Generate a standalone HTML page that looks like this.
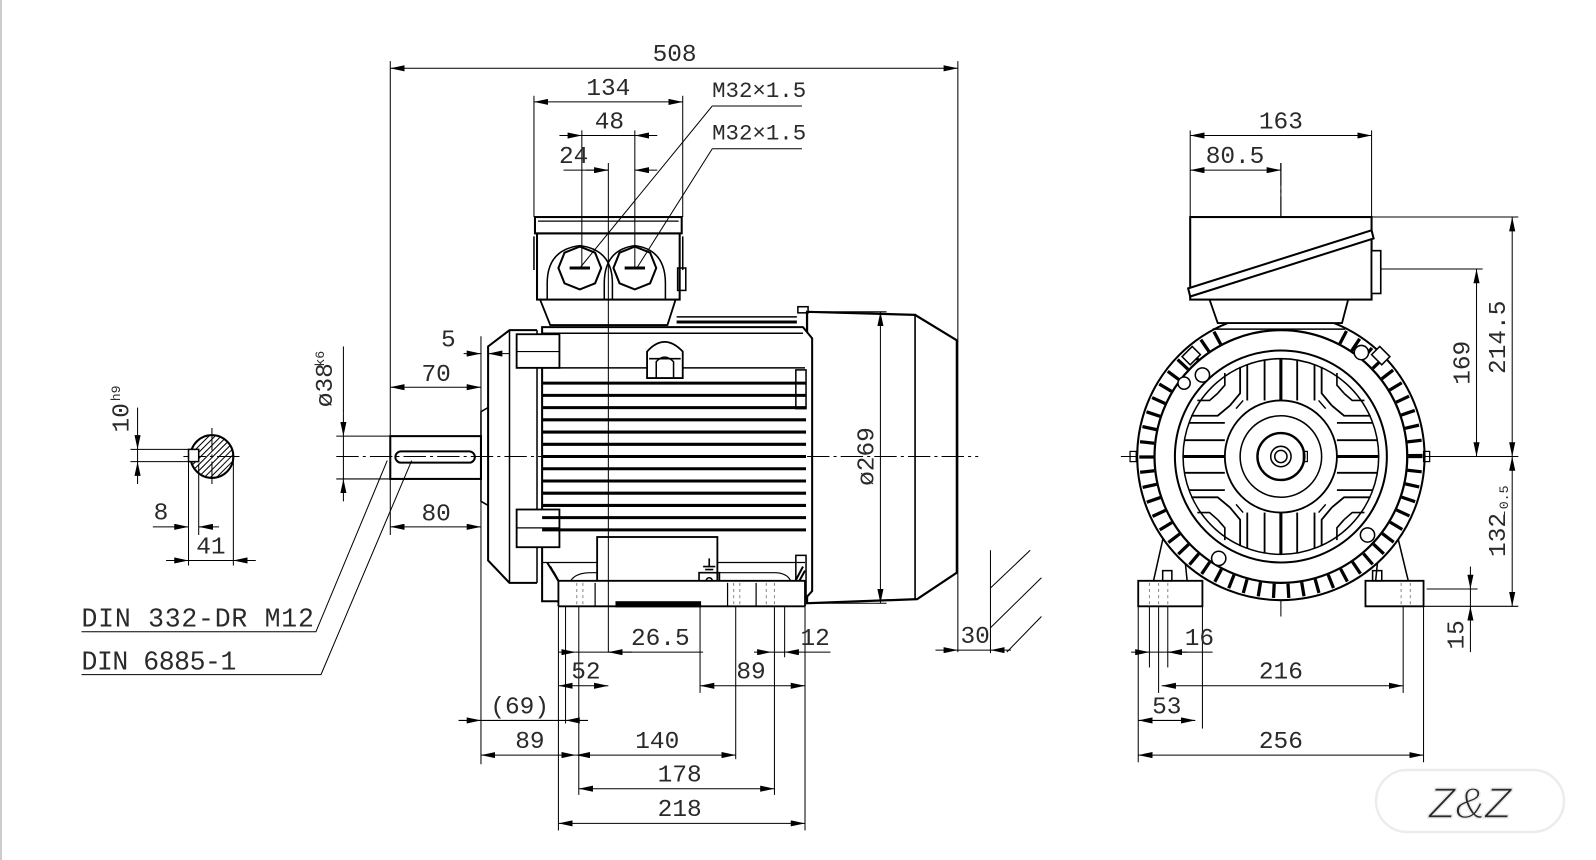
<!DOCTYPE html>
<html><head><meta charset="utf-8"><style>
html,body{margin:0;padding:0;background:#fff;}
svg{display:block;}
text{font-family:"Liberation Mono",monospace;fill:#2a2a2a;}
</style></head><body>
<svg id="s" width="1596" height="860" viewBox="0 0 1596 860" xmlns="http://www.w3.org/2000/svg">
<defs>
<marker id="a" viewBox="0 0 14 6" refX="14" refY="3" markerWidth="14" markerHeight="6" markerUnits="userSpaceOnUse" orient="auto-start-reverse"><path d="M0,0 L14,3 L0,6 z" fill="#000"/></marker>
</defs>
<rect x="0" y="0" width="1596" height="860" fill="#fff"/>
<line x1="1" y1="0" x2="1" y2="860" stroke="#999" stroke-width="1"/>
<g id="g" transform="scale(1.019)" stroke="#000" fill="none" stroke-width="1.2">

<path d="M792,306 L898,309 L939,334 L939,562 L900,588 L792,592 Z" stroke-width="2.2" fill="#fff"/>
<line x1="898" y1="309" x2="898" y2="588" stroke-width="1.6"/>
<rect x="783" y="301" width="10" height="6" stroke-width="1.5"/>
<path d="M532,321 L788,321 L797,332 L797,580 L788,590 L532,590 Z" stroke-width="2" fill="#fff"/>
<line x1="532" y1="327" x2="788" y2="327" stroke-width="1.5"/>
<line x1="664" y1="316" x2="782" y2="316" stroke-width="3"/>
<line x1="664" y1="311" x2="782" y2="311" stroke-width="1.5"/>
<path d="M527,324 L500,324 L479,340 L479,550 L500,572 L527,572" stroke-width="2" fill="#fff"/>
<line x1="500" y1="324" x2="500" y2="572" stroke-width="1.5"/>
<line x1="527" y1="324" x2="527" y2="572" stroke-width="1.5"/>
<path d="M479,400 L472,404 L472,492 L479,496" stroke-width="1.5"/>
<rect x="507" y="328" width="42" height="33" stroke-width="1.8" fill="#fff"/>
<line x1="507" y1="345" x2="549" y2="345" stroke-width="1.2"/>
<rect x="507" y="500" width="42" height="37" stroke-width="1.8" fill="#fff"/>
<line x1="507" y1="518" x2="549" y2="518" stroke-width="1.2"/>
<g id="fins" stroke-width="3"></g>
<line x1="532" y1="361" x2="790" y2="361" stroke-width="1.5"/>
<rect x="781" y="363" width="10" height="38" stroke-width="1.5"/>
<rect x="781" y="545" width="10" height="40" stroke-width="1.5"/>
<path d="M635,371 L635,345 Q652,326 670,345 L670,371 Z" stroke-width="1.8" fill="#fff"/>
<path d="M644,371 L644,355 Q652,346 661,355 L661,371" stroke-width="1.5"/>
<line x1="637" y1="352" x2="668" y2="352" stroke-width="1.5"/>
<rect x="586" y="527" width="118" height="50" stroke-width="1.8" fill="#fff"/>
<rect x="686" y="562" width="20" height="17" stroke-width="1.6"/>
<circle cx="696" cy="570" r="3" stroke-width="1.5"/>
<path d="M696,548 L696,556 M690,556 L702,556 M692,559 L700,559" stroke-width="1.6"/>
<line x1="704" y1="552" x2="790" y2="552" stroke-width="1.2"/>
<line x1="532" y1="552" x2="586" y2="552" stroke-width="1.2"/>
<path d="M537,552 L548,570 M540,556 L550,574 M543,561 L552,577" stroke-width="2"/>
<path d="M788,556 L778,575 M790,560 L780,578" stroke-width="2"/>
<path d="M548,595 L548,570 L790,570 L790,595" stroke-width="1.8" fill="#fff"/>
<path d="M560,570 Q565,562 580,562 L586,562 M704,562 L760,562 Q772,562 776,570" stroke-width="1.2"/>
<line x1="548" y1="595" x2="790" y2="595" stroke-width="1.8"/>
<rect x="604" y="590" width="84" height="6" fill="#000" stroke="none"/>
<g stroke="#888" stroke-dasharray="3 3" stroke-width="1"><line x1="566" y1="572" x2="566" y2="594"/><line x1="572" y1="572" x2="572" y2="594"/><line x1="720" y1="572" x2="720" y2="594"/><line x1="726" y1="572" x2="726" y2="594"/><line x1="752" y1="572" x2="752" y2="594"/><line x1="760" y1="572" x2="760" y2="594"/></g>
<line x1="584" y1="572" x2="584" y2="595"/><line x1="714" y1="572" x2="714" y2="595"/><line x1="742" y1="572" x2="742" y2="595"/>
<path d="M530,294 L540,319 L655,319 L663,294" stroke-width="1.8" fill="#fff"/>
<rect x="527" y="229" width="140" height="65" stroke-width="2" fill="#fff"/>
<rect x="525" y="213" width="144" height="16" stroke-width="2" fill="#fff"/>
<line x1="528" y1="217" x2="666" y2="217" stroke-width="1.2"/>
<path d="M524,232 L524,265 M670,232 L670,265" stroke-width="1.5"/>
<rect x="665" y="263" width="8" height="22" stroke-width="1.5"/>
<path d="M537,294 L537,278 Q537,245 569,241 Q601,245 601,278 L601,294" stroke-width="1.5"/>
<path d="M593,294 L593,278 Q593,245 623,241 Q653,245 653,278 L653,294" stroke-width="1.5"/>
<polygon points="569,242 584,248 590,263 584,278 569,284 554,278 548,263 554,248" stroke-width="2" fill="#fff"/>
<polygon points="623,242 638,248 644,263 638,278 623,284 608,278 602,263 608,248" stroke-width="2" fill="#fff"/>
<line x1="559" y1="263" x2="579" y2="263" stroke-width="3"/>
<line x1="613" y1="263" x2="633" y2="263" stroke-width="3"/>
<rect x="383" y="428" width="89" height="42" stroke-width="2" fill="#fff"/>
<rect x="388" y="443" width="78" height="11" rx="5.5" stroke-width="2"/>
<g stroke-dasharray="22 4 3 4" stroke-width="1">
<line x1="330" y1="448" x2="960" y2="448"/>
<line x1="1100" y1="448" x2="1415" y2="448"/>
<line x1="1257" y1="160" x2="1257" y2="605"/>
<line x1="180" y1="448" x2="238" y2="448"/>
<line x1="208" y1="420" x2="208" y2="476"/>
</g>

<defs><clipPath id="cc"><circle cx="208" cy="448" r="21"/></clipPath></defs>
<g clip-path="url(#cc)" stroke-width="1"><g id="hatch"></g></g>
<circle cx="208" cy="448" r="21" stroke-width="2"/>
<rect x="185" y="441" width="10" height="12" fill="#fff" stroke-width="1.5"/>

<path d="M1117,595 L1117,570 L1180,570 L1180,595 Z M1340,595 L1340,570 L1397,570 L1397,595 Z" stroke-width="1.8" fill="#fff"/>
<path d="M1132,570 L1145,512 M1165,570 L1160,520 M1382,570 L1368,512 M1350,570 L1355,520" stroke-width="1.5"/>
<rect x="1141" y="560" width="9" height="10" stroke-width="1.5"/>
<rect x="1347" y="560" width="9" height="10" stroke-width="1.5"/>
<g stroke="#888" stroke-dasharray="3 3" stroke-width="1"><line x1="1128" y1="572" x2="1128" y2="594"/><line x1="1137" y1="572" x2="1137" y2="594"/><line x1="1146" y1="572" x2="1146" y2="594"/><line x1="1375" y1="572" x2="1375" y2="594"/><line x1="1384" y1="572" x2="1384" y2="594"/></g>
<circle cx="1257" cy="448" r="141" stroke-width="2" fill="#fff"/>
<g id="ffins" stroke-width="3.2"></g>
<circle cx="1257" cy="448" r="124" stroke-width="2.2" fill="#fff"/>
<circle cx="1257" cy="448" r="104" stroke-width="2"/>
<circle cx="1257" cy="448" r="96" stroke-width="1.5"/>
<g id="bars" stroke-width="1.6"></g>
<circle cx="1257" cy="448" r="55" stroke-width="1.8" fill="#fff"/>
<circle cx="1257" cy="448" r="40" stroke-width="1.5"/>
<circle cx="1257" cy="448" r="23" stroke-width="2.4"/>
<circle cx="1257" cy="448" r="10" stroke-width="1.5"/>
<circle cx="1257" cy="448" r="6" stroke-width="1.5"/>
<rect x="1279" y="443" width="4" height="10" stroke-width="1.2"/>
<g stroke-width="1.5" fill="#fff">
<polygon points="1160,350 1170,340 1178,348 1168,358"/>
<polygon points="1354,340 1364,350 1356,358 1346,348"/>
<circle cx="1180" cy="368" r="7"/><circle cx="1336" cy="346" r="7"/><circle cx="1162" cy="376" r="6"/>
<circle cx="1196" cy="548" r="7"/><circle cx="1342" cy="525" r="7"/>
</g>
<rect x="1109" y="443" width="6" height="10" stroke-width="1.2"/>
<rect x="1397" y="443" width="6" height="10" stroke-width="1.2"/>
<path d="M1187,294 L1195,317 L1317,317 L1323,294" stroke-width="1.8" fill="#fff"/>
<line x1="1190" y1="323" x2="1320" y2="323" stroke-width="1.5"/>
<rect x="1168" y="213" width="178" height="81" stroke-width="2" fill="#fff"/>
<path d="M1166,283 L1346,226 L1348,234 L1168,291 Z" stroke-width="2" fill="#fff"/>
<rect x="1346" y="246" width="9" height="42" stroke-width="1.6" fill="#fff"/>
<line x1="1257" y1="160" x2="1257" y2="213" stroke-width="1"/>

<g id="dims" stroke-width="1"></g>
<path d="M699,104 L787,104 M699,104 L569,263" stroke-width="1"/>
<path d="M699,146 L787,146 M699,146 L625,263" stroke-width="1"/>
<path d="M80,620 L310,620 L380,452" stroke-width="1"/>
<path d="M80,662 L315,662 L404,452" stroke-width="1"/>
<path d="M972,540 L972,641 M972,577 L1011,540 M972,616 L1022,567 M988,640 L1022,605" stroke-width="1"/>
</g>
<g fill="none" stroke="#ececec" stroke-width="2.5">
<rect x="1376" y="770" width="188" height="62" rx="31"/>
<text x="1470" y="818" text-anchor="middle" font-size="44" font-style="italic" fill="none" stroke="#ebebeb" stroke-width="1.5" style="font-family:'Liberation Sans',sans-serif">Z&amp;Z</text>
</g>
</svg>
<script>
const NS="http://www.w3.org/2000/svg";
function el(p,tag,at){const e=document.createElementNS(NS,tag);for(const k in at)e.setAttribute(k,at[k]);document.getElementById(p).appendChild(e);return e;}
function L(p,x1,y1,x2,y2,extra){return el(p,'line',Object.assign({x1,y1,x2,y2},extra||{}));}
for(let i=0;i<13;i++){const y=376+i*12;L('fins',532,y,791,y);}
for(let k=-60;k<60;k+=6)L('hatch',187+k,470,231+k,426);
const cx=1257,cy=448;
for(let a=0;a<360;a+=6.2){const r=a*Math.PI/180;
 const deg=a%360;
 if(deg>245&&deg<295)continue;
 L('ffins',cx+125*Math.cos(r),cy+125*Math.sin(r),cx+139*Math.cos(r),cy+139*Math.sin(r));}
function clipLen(o){return Math.sqrt(96*96-o*o);}
[0,-16,16,-33,33].forEach(o=>{
 const len=clipLen(o);const w=o===0?3:1.8;
 L('bars',cx+o,cy-len,cx+o,cy-55,{'stroke-width':w});
 L('bars',cx+o,cy+55,cx+o,cy+len,{'stroke-width':w});
 L('bars',cx-len,cy+o,cx-55,cy+o,{'stroke-width':w});
 L('bars',cx+55,cy+o,cx+len,cy+o,{'stroke-width':w});
});
[[1,1],[1,-1],[-1,1],[-1,-1]].forEach(([sx,sy])=>{
 const pts=(arr)=>arr.map(([x,y])=>(cx+sx*x)+','+(cy+sy*y)).join(' ');
 el('bars','polyline',{points:pts([[50,50],[40,62],[40,88]]),'stroke-width':1.8});
 el('bars','polyline',{points:pts([[50,50],[62,40],[88,40]]),'stroke-width':1.8});
 el('bars','polyline',{points:pts([[62,62],[55,70],[55,82]]),'stroke-width':1.6});
 el('bars','polyline',{points:pts([[62,62],[70,55],[82,55]]),'stroke-width':1.6});
 el('bars','polyline',{points:pts([[44,47],[37,55]]),'stroke-width':1.4});
});
function ext(x1,y1,x2,y2){L('dims',x1,y1,x2,y2);}
function H(x1,x2,y,out){if(out){L('dims',x1-22,y,x1,y,{'marker-end':'url(#a)'});L('dims',x2+22,y,x2,y,{'marker-end':'url(#a)'});L('dims',x1,y,x2,y);}else L('dims',x1,y,x2,y,{'marker-start':'url(#a)','marker-end':'url(#a)'});}
function V(x,y1,y2,out){if(out){L('dims',x,y1-22,x,y1,{'marker-end':'url(#a)'});L('dims',x,y2+22,x,y2,{'marker-end':'url(#a)'});L('dims',x,y1,x,y2);}else L('dims',x,y1,x,y2,{'marker-start':'url(#a)','marker-end':'url(#a)'});}
function T(x,y,s,rot,size){const t=el('g','text',{x,y,'text-anchor':'middle','font-size':size||24,stroke:'none',fill:'#2a2a2a'});t.textContent=s;if(rot)t.setAttribute('transform',`rotate(-90 ${x} ${y})`);return t;}
ext(383,60,383,428);ext(940,60,940,640);H(383,940,67);T(662,60,'508');
ext(524,94,524,213);ext(670,94,670,213);H(524,670,100);T(597,93,'134');
ext(571,128,571,263);ext(623,128,623,263);H(571,623,133,true);T(598,126,'48');
ext(597,160,597,640);L('dims',553,167,597,167);L('dims',575,167,597,167,{'marker-end':'url(#a)'});L('dims',645,167,623,167,{'marker-end':'url(#a)'});T(563,160,'24');
T(745,95,'M32×1.5',0,22);T(745,137,'M32×1.5',0,22);
ext(472,330,472,750);H(383,472,380);T(428,374,'70');
ext(383,470,383,525);H(383,472,517);T(428,511,'80');
L('dims',455,347,472,347,{'marker-end':'url(#a)'});L('dims',500,347,479,347,{'marker-end':'url(#a)'});ext(479,340,479,352);T(440,340,'5');
ext(330,428,383,428);ext(330,470,383,470);V(337,428,470,true);L('dims',337,340,337,406);T(326,378,'ø38',true,24);T(318,352,'k6',true,13);
ext(128,441,190,441);ext(128,453,190,453);V(135,441,453,true);L('dims',135,400,135,419);T(126,410,'10',true,24);T(118,386,'h9',true,13);
ext(185,453,185,555);ext(195,455,195,525);L('dims',150,517,185,517,{'marker-end':'url(#a)'});L('dims',215,517,195,517,{'marker-end':'url(#a)'});T(158,510,'8');
ext(229,450,229,555);H(185,229,550,true);T(207,543,'41');
el('g','text',{x:80,y:615,'font-size':26,stroke:'none',fill:'#2a2a2a',textLength:228}).textContent='DIN 332-DR M12';
el('g','text',{x:80,y:657,'font-size':26,stroke:'none',fill:'#2a2a2a',textLength:152}).textContent='DIN 6885-1';
ext(800,306,870,306);ext(800,592,870,592);V(864,306,592);T(857,448,'ø269',true,24);
ext(548,595,548,815);ext(790,595,790,815);ext(568,595,568,780);ext(760,595,760,780);ext(722,595,722,745);ext(687,595,687,680);ext(770,595,770,645);ext(555,595,555,710);
H(548,790,808);T(667,801,'218');
H(568,760,774);T(667,767,'178');
H(472,565,741);H(565,722,741);T(520,734,'89');T(645,734,'140');
L('dims',450,707,472,707,{'marker-end':'url(#a)'});L('dims',577,707,555,707,{'marker-end':'url(#a)'});L('dims',472,707,555,707);T(510,700,'(69)');
H(548,597,673);T(575,666,'52');H(687,790,673);T(737,666,'89');
L('dims',548,640,565,640,{'marker-end':'url(#a)'});L('dims',620,640,597,640,{'marker-end':'url(#a)'});L('dims',565,640,597,640);L('dims',597,640,690,640);T(648,633,'26.5');
L('dims',740,640,757,640,{'marker-end':'url(#a)'});L('dims',815,640,770,640,{'marker-end':'url(#a)'});L('dims',757,640,770,640);T(800,633,'12');
L('dims',918,638,940,638,{'marker-end':'url(#a)'});L('dims',992,638,972,638,{'marker-end':'url(#a)'});L('dims',940,638,972,638);T(957,631,'30');
ext(1168,128,1168,213);ext(1346,128,1346,213);H(1168,1346,133);T(1257,126,'163');
ext(1257,160,1257,167);H(1168,1257,167);T(1212,160,'80.5');
ext(1346,213,1490,213);ext(1355,264,1455,264);ext(1400,448,1490,448);ext(1397,595,1490,595);ext(1400,578,1450,578);
V(1484,213,448);T(1477,331,'214.5',true);
V(1449,264,448);T(1442,356,'169',true);
V(1484,448,595);T(1477,525,'132',true);T(1480,492,'-0.5',true,13);
V(1443,578,595,true);L('dims',1443,617,1443,640);T(1436,623,'15',true);
ext(1117,595,1117,748);ext(1397,595,1397,748);ext(1128,595,1128,655);ext(1137,595,1137,680);ext(1146,595,1146,655);ext(1180,595,1180,715);ext(1377,595,1377,680);
H(1117,1397,741);T(1257,734,'256');
H(1117,1173,707);T(1145,700,'53');
H(1140,1377,673);T(1257,666,'216');
L('dims',1110,640,1128,640,{'marker-end':'url(#a)'});L('dims',1165,640,1146,640,{'marker-end':'url(#a)'});L('dims',1128,640,1146,640);L('dims',1146,640,1190,640);T(1177,633,'16');
</script>
</body></html>
